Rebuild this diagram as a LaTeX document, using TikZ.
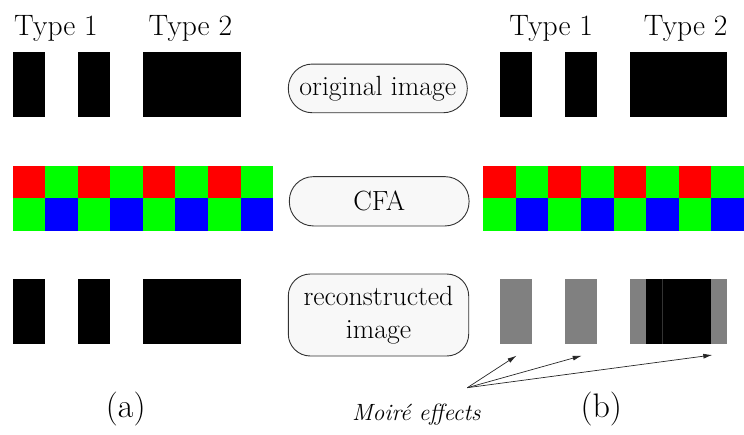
\documentclass[tikz,border=0pt]{standalone}
\usepackage{fontspec}
\usetikzlibrary{arrows.meta}
\definecolor{cfared}{RGB}{255,0,0}
\definecolor{cfagreen}{RGB}{0,255,0}
\definecolor{cfablue}{RGB}{0,0,255}
\definecolor{moiregray}{RGB}{128,128,128}
\definecolor{boxedge}{RGB}{50,50,50}
\definecolor{boxfill}{RGB}{248,248,248}
\tikzset{
  label text/.style={inner sep=0pt, font=\fontsize{29.5}{34}\selectfont},
  caption text/.style={inner sep=0pt, font=\fontsize{34}{40}\selectfont},
  stagebox/.style={draw=boxedge, fill=boxfill, line width=0.9pt,
    rounded corners=24pt, align=center, inner sep=0pt,
    font=\fontsize{27.8}{33}\selectfont},
  pointer/.style={draw=black!85, line width=0.7pt,
    -{Latex[length=9pt,width=5pt]}},
}
\begin{document}
\begin{tikzpicture}[x=1pt,y=-1pt]
\useasboundingbox (0,0) rectangle (744,434);
\def\cw{32.55}

% column headings
\node[label text, anchor=base] (l1) at (56,35) {Type 1};
\node[label text, anchor=base] (l2) at (190.3,35) {Type 2};
\node[label text, anchor=base] (r1) at (551.2,35) {Type 1};
\node[label text, anchor=base] (r2) at (685.7,35) {Type 2};

% original test patterns
\fill[black] (12.7,52.3) rectangle ++(\cw,65);
\fill[black] ({12.7+2*\cw},52.3) rectangle ++(\cw,65);
\fill[black] ({12.7+4*\cw},52.3) rectangle ++({3*\cw},65);
\fill[black] ({483.3+0.5*\cw},52.3) rectangle ++(\cw,65);
\fill[black] ({483.3+2.5*\cw},52.3) rectangle ++(\cw,65);
\fill[black] ({483.3+4.5*\cw},52.3) rectangle ++({3*\cw},65);

% Bayer colour filter arrays
\foreach \x in {12.7,483.3}{
  \foreach \i in {0,...,7}{
    \pgfmathsetmacro{\xx}{\x+\i*\cw}
    \ifodd\i
      \fill[cfagreen] (\xx,165.7) rectangle ++(\cw,32.65);
      \fill[cfablue] (\xx,198.35) rectangle ++(\cw,32.65);
    \else
      \fill[cfared] (\xx,165.7) rectangle ++(\cw,32.65);
      \fill[cfagreen] (\xx,198.35) rectangle ++(\cw,32.65);
    \fi
  }
}

% reconstructed patterns
\fill[black] (12.7,279.3) rectangle ++(\cw,65);
\fill[black] ({12.7+2*\cw},279.3) rectangle ++(\cw,65);
\fill[black] ({12.7+4*\cw},279.3) rectangle ++({3*\cw},65);
\fill[moiregray] ({483.3+0.5*\cw},279.3) rectangle ++(\cw,65);
\fill[moiregray] ({483.3+2.5*\cw},279.3) rectangle ++(\cw,65);
\fill[moiregray] ({483.3+4.5*\cw},279.3) rectangle ++({3*\cw},65);
\fill[black] ({483.3+5*\cw},279.3) rectangle ++({2*\cw},65);
\draw[black!80!white, line width=0.6pt] ({483.3+5.5*\cw},279.3) -- ++(0,65);

% processing stages
\node[stagebox, minimum width=179pt, minimum height=48.7pt] (orig) at (377.8,88.4) {original image};
\node[stagebox, minimum width=179.7pt, minimum height=49.3pt] (cfa) at (379.2,201.3) {CFA};
\node[stagebox, rounded corners=22pt, minimum width=180.4pt, minimum height=82pt] (recon) at (378.5,315) {reconstructed\\image};

% captions
\node[caption text, anchor=base] (capa) at (125.8,417) {(a)};
\node[caption text, anchor=base] (capb) at (601.3,417) {(b)};
\node[inner sep=0pt, anchor=base, font=\fontsize{23.5}{28}\selectfont\itshape] (moire) at (416.3,420) {Moiré effects};

% pointers to the artefacts
\coordinate (src) at (467.3,387.7);
\coordinate (t1) at (516.5,355.7);
\coordinate (t2) at (581.7,355.7);
\coordinate (t3) at (712.3,355);
\draw[pointer] (src) -- (t1);
\draw[pointer] (src) -- (t2);
\draw[pointer] (src) -- (t3);
\end{tikzpicture}
\end{document}
